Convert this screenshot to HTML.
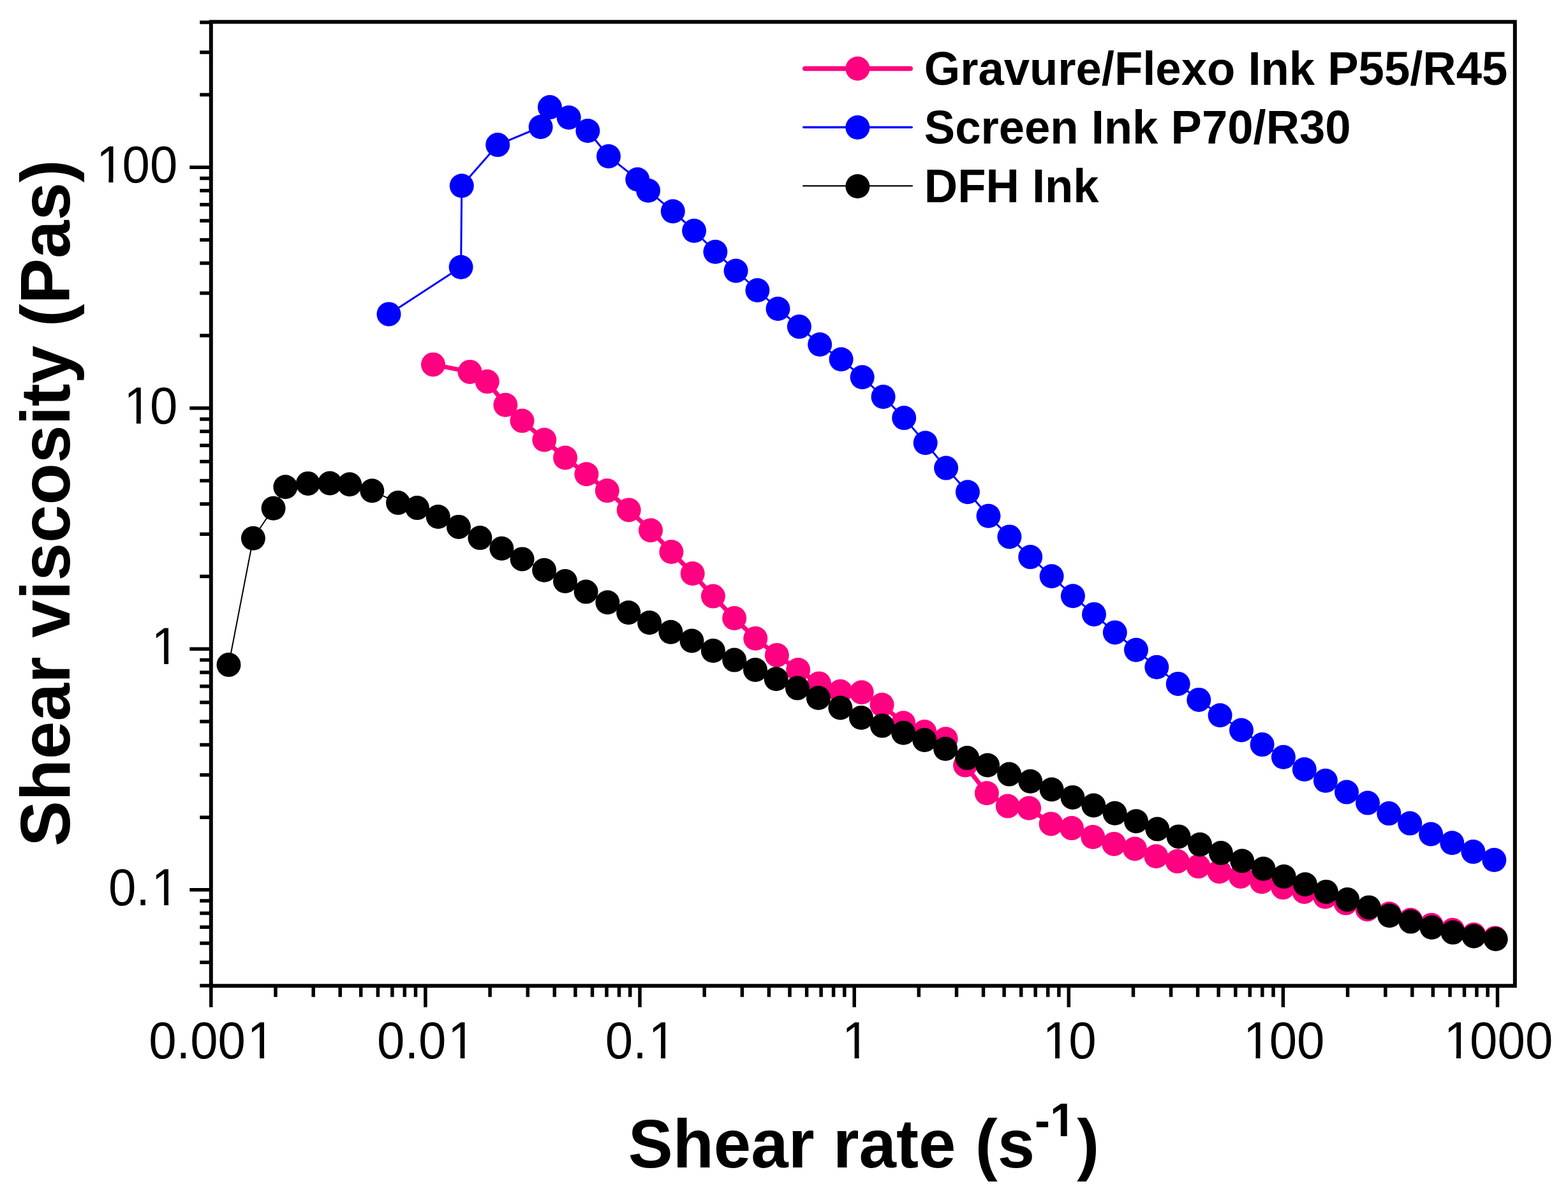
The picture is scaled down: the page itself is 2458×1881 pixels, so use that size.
<!DOCTYPE html>
<html><head><meta charset="utf-8"><title>Shear viscosity vs shear rate</title>
<style>html,body{margin:0;padding:0;background:#fff;width:2458px;height:1881px;overflow:hidden}
svg{display:block}
.tl{font-family:"Liberation Sans",sans-serif;fill:#000}
.tt{font-family:"Liberation Sans",sans-serif;font-weight:bold;fill:#000}
</style></head><body>
<svg width="2458" height="1881" viewBox="0 0 2458 1881">
<rect width="2458" height="1881" fill="#fff"/>
<path d="M330.8 1545.3V1578.8 M432 1545.3V1562.8 M491.2 1545.3V1562.8 M533.2 1545.3V1562.8 M565.7 1545.3V1562.8 M592.4 1545.3V1562.8 M614.9 1545.3V1562.8 M634.3 1545.3V1562.8 M651.5 1545.3V1562.8 M666.9 1545.3V1578.8 M768.1 1545.3V1562.8 M827.3 1545.3V1562.8 M869.3 1545.3V1562.8 M901.9 1545.3V1562.8 M928.5 1545.3V1562.8 M951 1545.3V1562.8 M970.5 1545.3V1562.8 M987.7 1545.3V1562.8 M1003 1545.3V1578.8 M1104.2 1545.3V1562.8 M1163.4 1545.3V1562.8 M1205.4 1545.3V1562.8 M1238 1545.3V1562.8 M1264.6 1545.3V1562.8 M1287.1 1545.3V1562.8 M1306.6 1545.3V1562.8 M1323.8 1545.3V1562.8 M1339.2 1545.3V1578.8 M1440.3 1545.3V1562.8 M1499.5 1545.3V1562.8 M1541.5 1545.3V1562.8 M1574.1 1545.3V1562.8 M1600.7 1545.3V1562.8 M1623.2 1545.3V1562.8 M1642.7 1545.3V1562.8 M1659.9 1545.3V1562.8 M1675.3 1545.3V1578.8 M1776.5 1545.3V1562.8 M1835.6 1545.3V1562.8 M1877.6 1545.3V1562.8 M1910.2 1545.3V1562.8 M1936.8 1545.3V1562.8 M1959.3 1545.3V1562.8 M1978.8 1545.3V1562.8 M1996 1545.3V1562.8 M2011.4 1545.3V1578.8 M2112.6 1545.3V1562.8 M2171.8 1545.3V1562.8 M2213.8 1545.3V1562.8 M2246.3 1545.3V1562.8 M2273 1545.3V1562.8 M2295.5 1545.3V1562.8 M2314.9 1545.3V1562.8 M2332.1 1545.3V1562.8 M2347.5 1545.3V1578.8 M330.8 1545.1H313.3 M330.8 1508.5H313.3 M330.8 1478.6H313.3 M330.8 1453.3H313.3 M330.8 1431.4H313.3 M330.8 1412.1H313.3 M330.8 1394.8H297.3 M330.8 1281.2H313.3 M330.8 1214.7H313.3 M330.8 1167.5H313.3 M330.8 1131H313.3 M330.8 1101.1H313.3 M330.8 1075.8H313.3 M330.8 1053.9H313.3 M330.8 1034.6H313.3 M330.8 1017.3H297.3 M330.8 903.6H313.3 M330.8 837.2H313.3 M330.8 790H313.3 M330.8 753.4H313.3 M330.8 723.5H313.3 M330.8 698.2H313.3 M330.8 676.3H313.3 M330.8 657H313.3 M330.8 639.8H297.3 M330.8 526.1H313.3 M330.8 459.6H313.3 M330.8 412.4H313.3 M330.8 375.9H313.3 M330.8 346H313.3 M330.8 320.7H313.3 M330.8 298.8H313.3 M330.8 279.5H313.3 M330.8 262.2H297.3 M330.8 148.5H313.3 M330.8 82.1H313.3 M330.8 34.9H313.3" stroke="#000" stroke-width="5.5" fill="none"/>
<rect x="330.8" y="34.3" width="2044" height="1511" fill="none" stroke="#000" stroke-width="6.0"/>
<text class="tl" font-size="78.0" x="233.2 276.6 298.3 341.6 387.6" y="1595.2" transform="translate(0 0) scale(1 1.04)">0.001</text>
<text class="tl" font-size="78.0" x="591 634.4 656.1 702" y="1595.2" transform="translate(0 0) scale(1 1.04)">0.01</text>
<text class="tl" font-size="78.0" x="948.8 992.2 1016.5" y="1595.2" transform="translate(0 0) scale(1 1.04)">0.1</text>
<text class="tl" font-size="78.0" x="1320.1" y="1595.2" transform="translate(0 0) scale(1 1.04)">1</text>
<text class="tl" font-size="78.0" x="1634.5 1675.3" y="1595.2" transform="translate(0 0) scale(1 1.04)">10</text>
<text class="tl" font-size="78.0" x="1948.9 1989.7 2033.1" y="1595.2" transform="translate(0 0) scale(1 1.04)">100</text>
<text class="tl" font-size="78.0" x="2263.4 2304.1 2347.5 2390.9" y="1595.2" transform="translate(0 0) scale(1 1.04)">1000</text>
<text class="tl" font-size="78.0" x="170 213.3 237.6" y="1364.1" transform="translate(0 0) scale(1 1.04)">0.1</text>
<text class="tl" font-size="78.0" x="237.6" y="1001.1" transform="translate(0 0) scale(1 1.04)">1</text>
<text class="tl" font-size="78.0" x="194.2 235" y="638" transform="translate(0 0) scale(1 1.04)">10</text>
<text class="tl" font-size="78.0" x="150.9 191.6 235" y="275" transform="translate(0 0) scale(1 1.04)">100</text>
<text class="tt" font-size="105" transform="translate(984.7 1830.2) scale(1 1.02)">Shear rate</text>
<text class="tt" font-size="105" transform="translate(1528.7 1830.2) scale(1 1.02)">(s</text>
<text class="tt" font-size="72" transform="translate(1622 1780.8) scale(1 1.02)"><tspan dy="1.6">-</tspan><tspan dy="-1.6">1</tspan></text>
<g fill="#fff"><rect x="392.8" y="1652.3" width="14.4" height="7.9"/><rect x="414.1" y="1652.3" width="14.7" height="7.9"/><rect x="707.2" y="1652.3" width="14.4" height="7.9"/><rect x="728.5" y="1652.3" width="14.7" height="7.9"/><rect x="1021.6" y="1652.3" width="14.4" height="7.9"/><rect x="1043" y="1652.3" width="14.7" height="7.9"/><rect x="1325.2" y="1652.3" width="14.4" height="7.9"/><rect x="1346.6" y="1652.3" width="14.7" height="7.9"/><rect x="1639.7" y="1652.3" width="14.4" height="7.9"/><rect x="1661" y="1652.3" width="14.7" height="7.9"/><rect x="1954.1" y="1652.3" width="14.4" height="7.9"/><rect x="1975.4" y="1652.3" width="14.7" height="7.9"/><rect x="2268.5" y="1652.3" width="14.4" height="7.9"/><rect x="2289.9" y="1652.3" width="14.7" height="7.9"/><rect x="242.8" y="1412" width="14.4" height="7.9"/><rect x="264.1" y="1412" width="14.7" height="7.9"/><rect x="242.8" y="1034.4" width="14.4" height="7.9"/><rect x="264.1" y="1034.4" width="14.7" height="7.9"/><rect x="199.4" y="656.9" width="14.4" height="7.9"/><rect x="220.7" y="656.9" width="14.7" height="7.9"/><rect x="156" y="279.3" width="14.4" height="7.9"/><rect x="177.4" y="279.3" width="14.7" height="7.9"/><rect x="1649.5" y="1772.7" width="13.3" height="9.3"/><rect x="1672.7" y="1772.7" width="12.5" height="9.3"/></g>
<text class="tt" font-size="105" transform="translate(1688.3 1830.2) scale(1 1.02)">)</text>
<text class="tt" font-size="107" text-anchor="middle" transform="translate(109 788.6) rotate(-90) scale(1 1.02)">Shear viscosity (Pas)</text>
<path d="M679 571.4 L736.6 582.9 L763.8 598.1 L792.4 634.7 L818.5 659.6 L853.3 689.5 L886.1 717.5 L919.4 743.2 L951.8 769.1 L985.7 799.4 L1020 831.3 L1052.4 865 L1085.7 899 L1117.9 934.6 L1151.2 969 L1184.3 1000.8 L1217.9 1026.9 L1251.2 1050 L1284 1071.4 L1317.4 1083.8 L1350.7 1085.2 L1382.6 1104.8 L1416.2 1133.3 L1449.3 1147.1 L1482.6 1158.3 L1513.1 1199.5 L1546.9 1243.3 L1579.8 1263.6 L1613.1 1266.7 L1647.6 1291.4 L1680 1298.1 L1713.3 1312 L1746.3 1322.9 L1779 1330.5 L1812.4 1342.3 L1845.7 1350.1 L1878.5 1358.1 L1911.4 1366.3 L1944.8 1373.9 L1978 1382.3 L2011.3 1391.1 L2044.6 1397.9 L2077.3 1405.8 L2109.6 1415.6 L2143.5 1425.4 L2177.8 1432.2 L2211.1 1442 L2243.8 1449.9 L2277.1 1457.7 L2310.4 1465.1 L2343.7 1470.4" fill="none" stroke="#ff0080" stroke-width="7" stroke-linejoin="round"/>
<g fill="#ff0080"><circle cx="679" cy="571.4" r="19.0"/><circle cx="736.6" cy="582.9" r="19.0"/><circle cx="763.8" cy="598.1" r="19.0"/><circle cx="792.4" cy="634.7" r="19.0"/><circle cx="818.5" cy="659.6" r="19.0"/><circle cx="853.3" cy="689.5" r="19.0"/><circle cx="886.1" cy="717.5" r="19.0"/><circle cx="919.4" cy="743.2" r="19.0"/><circle cx="951.8" cy="769.1" r="19.0"/><circle cx="985.7" cy="799.4" r="19.0"/><circle cx="1020" cy="831.3" r="19.0"/><circle cx="1052.4" cy="865" r="19.0"/><circle cx="1085.7" cy="899" r="19.0"/><circle cx="1117.9" cy="934.6" r="19.0"/><circle cx="1151.2" cy="969" r="19.0"/><circle cx="1184.3" cy="1000.8" r="19.0"/><circle cx="1217.9" cy="1026.9" r="19.0"/><circle cx="1251.2" cy="1050" r="19.0"/><circle cx="1284" cy="1071.4" r="19.0"/><circle cx="1317.4" cy="1083.8" r="19.0"/><circle cx="1350.7" cy="1085.2" r="19.0"/><circle cx="1382.6" cy="1104.8" r="19.0"/><circle cx="1416.2" cy="1133.3" r="19.0"/><circle cx="1449.3" cy="1147.1" r="19.0"/><circle cx="1482.6" cy="1158.3" r="19.0"/><circle cx="1513.1" cy="1199.5" r="19.0"/><circle cx="1546.9" cy="1243.3" r="19.0"/><circle cx="1579.8" cy="1263.6" r="19.0"/><circle cx="1613.1" cy="1266.7" r="19.0"/><circle cx="1647.6" cy="1291.4" r="19.0"/><circle cx="1680" cy="1298.1" r="19.0"/><circle cx="1713.3" cy="1312" r="19.0"/><circle cx="1746.3" cy="1322.9" r="19.0"/><circle cx="1779" cy="1330.5" r="19.0"/><circle cx="1812.4" cy="1342.3" r="19.0"/><circle cx="1845.7" cy="1350.1" r="19.0"/><circle cx="1878.5" cy="1358.1" r="19.0"/><circle cx="1911.4" cy="1366.3" r="19.0"/><circle cx="1944.8" cy="1373.9" r="19.0"/><circle cx="1978" cy="1382.3" r="19.0"/><circle cx="2011.3" cy="1391.1" r="19.0"/><circle cx="2044.6" cy="1397.9" r="19.0"/><circle cx="2077.3" cy="1405.8" r="19.0"/><circle cx="2109.6" cy="1415.6" r="19.0"/><circle cx="2143.5" cy="1425.4" r="19.0"/><circle cx="2177.8" cy="1432.2" r="19.0"/><circle cx="2211.1" cy="1442" r="19.0"/><circle cx="2243.8" cy="1449.9" r="19.0"/><circle cx="2277.1" cy="1457.7" r="19.0"/><circle cx="2310.4" cy="1465.1" r="19.0"/><circle cx="2343.7" cy="1470.4" r="19.0"/></g>
<path d="M609.5 492.4 L722.6 418.8 L723.8 291.2 L780.2 227.1 L847.6 199 L861.9 168.1 L891.7 184.3 L921.4 205 L954 245 L999.3 281.2 L1016.1 298.8 L1054.8 331.2 L1088.1 361.7 L1121.4 394.8 L1153.6 424.5 L1187.4 455 L1219.5 484 L1252.9 512.1 L1285.2 540 L1318.6 563.3 L1351.7 591.2 L1384.6 622 L1417.2 655.1 L1450.7 694.3 L1483.1 733.6 L1516.9 771.2 L1549.5 808.8 L1582.4 841.4 L1615.2 873.1 L1648.6 903.3 L1681.9 934.3 L1715 962.9 L1747.8 991.4 L1781 1018.8 L1813.3 1045.7 L1846.7 1071.9 L1879.3 1096.9 L1912.6 1121.2 L1946 1144.5 L1978.6 1167.1 L2011.9 1186.7 L2044.8 1206 L2077.9 1223.8 L2111 1241.6 L2144 1258.6 L2177.3 1275.1 L2210.2 1290.6 L2243.1 1307.5 L2276.3 1321.2 L2309.4 1335.1 L2342.3 1348" fill="none" stroke="#0000ff" stroke-width="3.0" stroke-linejoin="round"/>
<g fill="#0000ff"><circle cx="609.5" cy="492.4" r="19.0"/><circle cx="722.6" cy="418.8" r="19.0"/><circle cx="723.8" cy="291.2" r="19.0"/><circle cx="780.2" cy="227.1" r="19.0"/><circle cx="847.6" cy="199" r="19.0"/><circle cx="861.9" cy="168.1" r="19.0"/><circle cx="891.7" cy="184.3" r="19.0"/><circle cx="921.4" cy="205" r="19.0"/><circle cx="954" cy="245" r="19.0"/><circle cx="999.3" cy="281.2" r="19.0"/><circle cx="1016.1" cy="298.8" r="19.0"/><circle cx="1054.8" cy="331.2" r="19.0"/><circle cx="1088.1" cy="361.7" r="19.0"/><circle cx="1121.4" cy="394.8" r="19.0"/><circle cx="1153.6" cy="424.5" r="19.0"/><circle cx="1187.4" cy="455" r="19.0"/><circle cx="1219.5" cy="484" r="19.0"/><circle cx="1252.9" cy="512.1" r="19.0"/><circle cx="1285.2" cy="540" r="19.0"/><circle cx="1318.6" cy="563.3" r="19.0"/><circle cx="1351.7" cy="591.2" r="19.0"/><circle cx="1384.6" cy="622" r="19.0"/><circle cx="1417.2" cy="655.1" r="19.0"/><circle cx="1450.7" cy="694.3" r="19.0"/><circle cx="1483.1" cy="733.6" r="19.0"/><circle cx="1516.9" cy="771.2" r="19.0"/><circle cx="1549.5" cy="808.8" r="19.0"/><circle cx="1582.4" cy="841.4" r="19.0"/><circle cx="1615.2" cy="873.1" r="19.0"/><circle cx="1648.6" cy="903.3" r="19.0"/><circle cx="1681.9" cy="934.3" r="19.0"/><circle cx="1715" cy="962.9" r="19.0"/><circle cx="1747.8" cy="991.4" r="19.0"/><circle cx="1781" cy="1018.8" r="19.0"/><circle cx="1813.3" cy="1045.7" r="19.0"/><circle cx="1846.7" cy="1071.9" r="19.0"/><circle cx="1879.3" cy="1096.9" r="19.0"/><circle cx="1912.6" cy="1121.2" r="19.0"/><circle cx="1946" cy="1144.5" r="19.0"/><circle cx="1978.6" cy="1167.1" r="19.0"/><circle cx="2011.9" cy="1186.7" r="19.0"/><circle cx="2044.8" cy="1206" r="19.0"/><circle cx="2077.9" cy="1223.8" r="19.0"/><circle cx="2111" cy="1241.6" r="19.0"/><circle cx="2144" cy="1258.6" r="19.0"/><circle cx="2177.3" cy="1275.1" r="19.0"/><circle cx="2210.2" cy="1290.6" r="19.0"/><circle cx="2243.1" cy="1307.5" r="19.0"/><circle cx="2276.3" cy="1321.2" r="19.0"/><circle cx="2309.4" cy="1335.1" r="19.0"/><circle cx="2342.3" cy="1348" r="19.0"/></g>
<path d="M358.5 1042.1 L396.9 843.8 L428.6 796.7 L447.4 763.3 L482.8 757.9 L517.1 757.5 L548.1 759.2 L583.3 769.3 L624 788.1 L654 796.1 L686.8 810 L719 825.9 L752.4 843.1 L786.4 859.8 L818.6 876.4 L853.1 893.8 L886 911 L918.6 927.6 L952.4 944.3 L985.2 960.2 L1018.1 976 L1051.4 990.7 L1084.5 1004.5 L1117.9 1020 L1151.2 1034.6 L1184 1050 L1216.7 1064.3 L1250 1078.6 L1282.9 1094 L1317.4 1109.5 L1350 1125 L1382.9 1137.6 L1416.2 1148.8 L1449.3 1160 L1482.1 1173.8 L1516.2 1188.1 L1548.1 1199.5 L1582.1 1213.6 L1615.2 1224.7 L1648.6 1237.5 L1681.5 1249.9 L1714.3 1262.5 L1747.6 1274.7 L1781 1287.2 L1814.3 1299.6 L1847.6 1311.4 L1881 1323.8 L1913.9 1337.1 L1947.2 1349.5 L1980.5 1361.8 L2012.7 1374 L2046 1386.2 L2078.9 1397.9 L2112.2 1410.1 L2145.9 1422.4 L2178.2 1435.2 L2211.5 1444.6 L2244.4 1453.8 L2277.5 1461.6 L2310.4 1467.5 L2344.7 1472" fill="none" stroke="#000000" stroke-width="2" stroke-linejoin="round"/>
<g fill="#000000"><circle cx="358.5" cy="1042.1" r="19.0"/><circle cx="396.9" cy="843.8" r="19.0"/><circle cx="428.6" cy="796.7" r="19.0"/><circle cx="447.4" cy="763.3" r="19.0"/><circle cx="482.8" cy="757.9" r="19.0"/><circle cx="517.1" cy="757.5" r="19.0"/><circle cx="548.1" cy="759.2" r="19.0"/><circle cx="583.3" cy="769.3" r="19.0"/><circle cx="624" cy="788.1" r="19.0"/><circle cx="654" cy="796.1" r="19.0"/><circle cx="686.8" cy="810" r="19.0"/><circle cx="719" cy="825.9" r="19.0"/><circle cx="752.4" cy="843.1" r="19.0"/><circle cx="786.4" cy="859.8" r="19.0"/><circle cx="818.6" cy="876.4" r="19.0"/><circle cx="853.1" cy="893.8" r="19.0"/><circle cx="886" cy="911" r="19.0"/><circle cx="918.6" cy="927.6" r="19.0"/><circle cx="952.4" cy="944.3" r="19.0"/><circle cx="985.2" cy="960.2" r="19.0"/><circle cx="1018.1" cy="976" r="19.0"/><circle cx="1051.4" cy="990.7" r="19.0"/><circle cx="1084.5" cy="1004.5" r="19.0"/><circle cx="1117.9" cy="1020" r="19.0"/><circle cx="1151.2" cy="1034.6" r="19.0"/><circle cx="1184" cy="1050" r="19.0"/><circle cx="1216.7" cy="1064.3" r="19.0"/><circle cx="1250" cy="1078.6" r="19.0"/><circle cx="1282.9" cy="1094" r="19.0"/><circle cx="1317.4" cy="1109.5" r="19.0"/><circle cx="1350" cy="1125" r="19.0"/><circle cx="1382.9" cy="1137.6" r="19.0"/><circle cx="1416.2" cy="1148.8" r="19.0"/><circle cx="1449.3" cy="1160" r="19.0"/><circle cx="1482.1" cy="1173.8" r="19.0"/><circle cx="1516.2" cy="1188.1" r="19.0"/><circle cx="1548.1" cy="1199.5" r="19.0"/><circle cx="1582.1" cy="1213.6" r="19.0"/><circle cx="1615.2" cy="1224.7" r="19.0"/><circle cx="1648.6" cy="1237.5" r="19.0"/><circle cx="1681.5" cy="1249.9" r="19.0"/><circle cx="1714.3" cy="1262.5" r="19.0"/><circle cx="1747.6" cy="1274.7" r="19.0"/><circle cx="1781" cy="1287.2" r="19.0"/><circle cx="1814.3" cy="1299.6" r="19.0"/><circle cx="1847.6" cy="1311.4" r="19.0"/><circle cx="1881" cy="1323.8" r="19.0"/><circle cx="1913.9" cy="1337.1" r="19.0"/><circle cx="1947.2" cy="1349.5" r="19.0"/><circle cx="1980.5" cy="1361.8" r="19.0"/><circle cx="2012.7" cy="1374" r="19.0"/><circle cx="2046" cy="1386.2" r="19.0"/><circle cx="2078.9" cy="1397.9" r="19.0"/><circle cx="2112.2" cy="1410.1" r="19.0"/><circle cx="2145.9" cy="1422.4" r="19.0"/><circle cx="2178.2" cy="1435.2" r="19.0"/><circle cx="2211.5" cy="1444.6" r="19.0"/><circle cx="2244.4" cy="1453.8" r="19.0"/><circle cx="2277.5" cy="1461.6" r="19.0"/><circle cx="2310.4" cy="1467.5" r="19.0"/><circle cx="2344.7" cy="1472" r="19.0"/></g>
<line x1="1261.8" y1="107.5" x2="1427.2" y2="107.5" stroke="#ff0080" stroke-width="7.5" stroke-linecap="round"/><circle cx="1344.4" cy="107.5" r="19.0" fill="#ff0080"/><text class="tt" font-size="72.5" transform="translate(1448.8 133.3) scale(1 1.03)">Gravure/Flexo Ink P55/R45</text>
<line x1="1259.8" y1="199.6" x2="1429.2" y2="199.6" stroke="#0000ff" stroke-width="3.5" stroke-linecap="round"/><circle cx="1344.4" cy="199.7" r="19.0" fill="#0000ff"/><text class="tt" font-size="72.5" transform="translate(1448.8 225.4) scale(1 1.03)">Screen Ink P70/R30</text>
<line x1="1259.1" y1="291.4" x2="1429.9" y2="291.4" stroke="#000000" stroke-width="2.2" stroke-linecap="round"/><circle cx="1344.4" cy="292" r="19.0" fill="#000000"/><text class="tt" font-size="72.5" transform="translate(1448.8 317.2) scale(1 1.03)">DFH Ink</text>
</svg></body></html>
